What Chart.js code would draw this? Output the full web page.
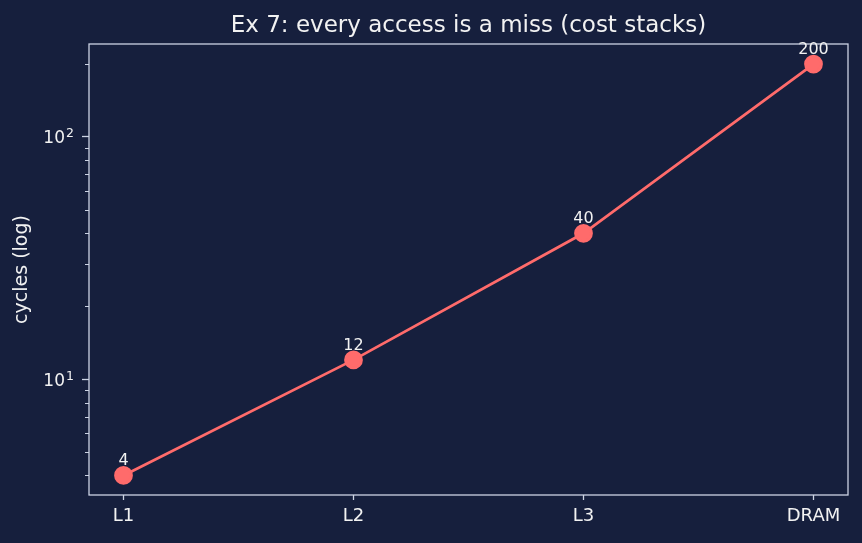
<!DOCTYPE html>
<html>
<head>
<meta charset="utf-8">
<script src="https://cdn.jsdelivr.net/npm/chart.js@4/dist/chart.umd.min.js"></script>
<style>
  html, body { margin: 0; padding: 0; background: #161f3d; }
  #wrap { width: 862px; height: 543px; }
</style>
</head>
<body>
<div id="wrap"><canvas id="cacheChart" width="862" height="543"></canvas></div>
<script>
// Memory level and the cost of a miss there (cycles)
const levels = ['L1', 'L2', 'L3', 'DRAM'];
const cycles = [4, 12, 40, 200];

// Axis range and ticks
const yMin = 3.32;
const yMax = 242;
const yMajorTicks = [10, 100];
const yMajorExp = ['1', '2'];
const yMinorTicks = [4, 5, 6, 7, 8, 9, 20, 30, 40, 50, 60, 70, 80, 90, 200];

const fg = '#f2f2f2';
const frameColor = '#ccd3e4';
const lineColor = '#ff6b6b';
const font = 'DejaVu Sans';

// Frame, minor ticks, 10^n labels, title and value labels
const decor = {
  id: 'decor',
  afterDraw(chart) {
    const c = chart.ctx;
    const a = chart.chartArea;
    const y = chart.scales.y;
    c.save();
    c.strokeStyle = frameColor;
    c.lineWidth = 1.3;
    c.strokeRect(a.left, a.top, a.right - a.left, a.bottom - a.top);

    // minor ticks on the log axis
    c.lineWidth = 1;
    yMinorTicks.forEach(v => {
      const py = Math.round(y.getPixelForValue(v)) + 0.5;
      c.beginPath();
      c.moveTo(a.left - 4, py);
      c.lineTo(a.left, py);
      c.stroke();
    });

    // major labels as 10 with a raised exponent
    c.fillStyle = fg;
    yMajorTicks.forEach((v, i) => {
      const py = y.getPixelForValue(v);
      c.font = '17px "' + font + '"';
      c.textAlign = 'right';
      c.textBaseline = 'alphabetic';
      c.fillText('10', a.left - 24, py + 6.5);
      c.font = '12.5px "' + font + '"';
      c.textAlign = 'left';
      c.fillText(yMajorExp[i], a.left - 23, py + 0.5);
    });

    // title centred over the plot
    c.font = '23px "' + font + '"';
    c.textAlign = 'center';
    c.textBaseline = 'alphabetic';
    c.fillText('Ex 7: every access is a miss (cost stacks)', (a.left + a.right) / 2, 31.5);

    // value labels above each point
    c.font = '16px "' + font + '"';
    const meta = chart.getDatasetMeta(0);
    meta.data.forEach((pt, i) => {
      c.fillText(String(cycles[i]), pt.x, pt.y - 10);
    });
    c.restore();
  }
};

new Chart(document.getElementById('cacheChart'), {
  type: 'line',
  data: {
    datasets: [{
      data: cycles.map((v, i) => ({ x: i, y: v })),
      borderColor: lineColor,
      backgroundColor: lineColor,
      pointBackgroundColor: lineColor,
      pointBorderColor: lineColor,
      borderWidth: 2.8,
      pointRadius: 8,
      pointHoverRadius: 8,
      tension: 0
    }]
  },
  options: {
    responsive: false,
    animation: false,
    layout: { padding: { top: 44, right: 14, bottom: 0, left: 0 } },
    plugins: {
      legend: { display: false },
      tooltip: { enabled: false },
      title: { display: false }
    },
    scales: {
      x: {
        type: 'linear',
        min: -0.15,
        max: 3.15,
        afterBuildTicks: s => { s.ticks = levels.map((_, i) => ({ value: i })); },
        afterFit: s => { s.height = 48; },
        border: { display: false },
        grid: { drawOnChartArea: false, drawTicks: true, tickLength: 5, tickColor: frameColor, tickWidth: 1.3 },
        ticks: {
          color: fg,
          font: { family: font, size: 18 },
          padding: 6,
          autoSkip: false,
          maxRotation: 0,
          callback: v => levels[v]
        }
      },
      y: {
        type: 'logarithmic',
        min: yMin,
        max: yMax,
        afterBuildTicks: s => { s.ticks = yMajorTicks.map(v => ({ value: v })); },
        afterFit: s => { s.width = 89; },
        border: { display: false },
        grid: { drawOnChartArea: false, drawTicks: true, tickLength: 7, tickColor: frameColor, tickWidth: 1.3 },
        ticks: {
          color: fg,
          font: { family: font, size: 17 },
          autoSkip: false,
          callback: () => ''
        },
        title: {
          display: true,
          text: 'cycles (log)',
          color: fg,
          font: { family: font, size: 19 },
          padding: { top: 11, bottom: 0 }
        }
      }
    }
  },
  plugins: [decor]
});
</script>
</body>
</html>
